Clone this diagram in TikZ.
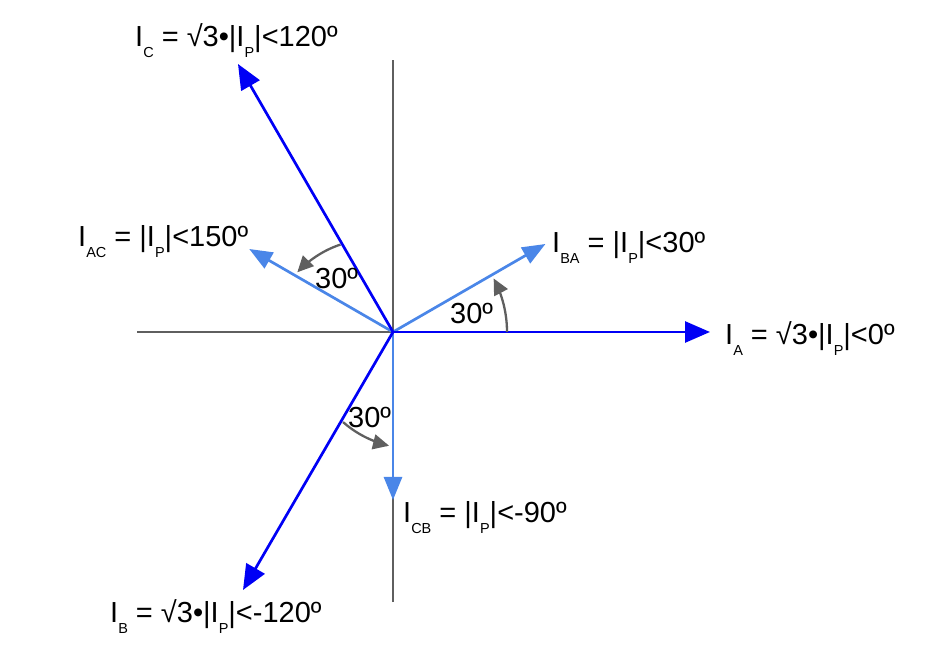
\documentclass[tikz,border=0pt]{standalone}
\usepackage{fontspec}
\setmainfont{Liberation Sans}
\usetikzlibrary{arrows.meta,calc}
\definecolor{dblue}{RGB}{0,0,245}
\definecolor{lblue}{RGB}{74,134,232}
\definecolor{axgray}{RGB}{95,95,95}
\newcommand\subsc[1]{\raisebox{-11pt}{\fontsize{14.5}{14.5}\selectfont #1}}
\tikzset{
  main/.style={draw=dblue, line width=2.7pt, -{Triangle[length=25pt,width=21pt]}},
  phase/.style={draw=lblue, line width=2.7pt, -{Triangle[length=23pt,width=18pt]}},
  axis/.style={draw=axgray, line width=2.5pt},
  angarc/.style={draw=axgray, line width=2.3pt, -{Triangle[length=16pt,width=15pt]}},
  lbl/.style={inner sep=0pt, anchor=base west, font=\fontsize{29}{29}\selectfont},
}
\begin{document}
\begin{tikzpicture}[x=1pt,y=1pt]
\useasboundingbox (0,0) rectangle (933,666);
\coordinate (O) at (393,334);
\coordinate (axL) at (137,334);
\coordinate (axR) at (650,334);
\coordinate (axT) at (393,606);
\coordinate (axB) at (393,64);
\coordinate (tA) at (710,334);
\coordinate (tC) at (238,602);
\coordinate (tB) at (243,76);
\coordinate (tBA) at ($(O)+(30:176)$);
\coordinate (tAC) at ($(O)+(150:166)$);
\coordinate (tCB) at (393,166);
% axes
\draw[axis] (axL) -- (axR);
\draw[axis] (axB) -- (axT);
% phase currents
\draw[phase] (O) -- (tBA);
\draw[phase] (O) -- (tAC);
\draw[phase] (O) -- (tCB);
% line currents
\draw[main] (O) -- (tA);
\draw[main] (O) -- (tC);
\draw[main] (O) -- (tB);
% angle arcs
\draw[angarc] plot[domain=0:28, samples=20, smooth, variable=\t] ({393+114*cos(\t)},{334+114*sin(\t)});
\draw[angarc] plot[domain=121:148, samples=20, smooth, variable=\t] ({393+(102+(\t-121)*0.4)*cos(\t)},{334+(102+(\t-121)*0.4)*sin(\t)});
\draw[angarc] plot[domain=241:268, samples=20, smooth, variable=\t] ({393+(103+(\t-241)*0.4)*cos(\t)},{334+(103+(\t-241)*0.4)*sin(\t)});
% labels
\node[lbl] (lC) at (135,619) {I\subsc{C} = √3•|I\subsc{P}|<120º};
\node[lbl] (lAC) at (78,419) {I\subsc{AC} = |I\subsc{P}|<150º};
\node[lbl] (lBA) at (552,413) {I\subsc{BA} = |I\subsc{P}|<30º};
\node[lbl] (lA) at (725,321) {I\subsc{A} = √3•|I\subsc{P}|<0º};
\node[lbl] (lCB) at (403,143) {I\subsc{CB} = |I\subsc{P}|<-90º};
\node[lbl] (lB) at (110,44) {I\subsc{B} = √3•|I\subsc{P}|<-120º};
\node[lbl] (a1) at (450,342) {30º};
\node[lbl] (a2) at (315,377) {30º};
\node[lbl] (a3) at (348,238) {30º};
\end{tikzpicture}
\end{document}
